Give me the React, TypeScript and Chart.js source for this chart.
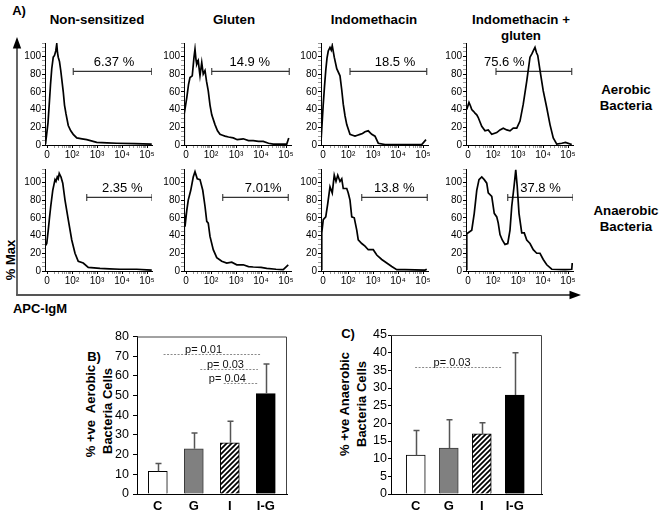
import React, { useEffect, useRef } from 'react';
import { Chart, registerables } from 'chart.js';

Chart.register(...registerables);

const FONT = '"Liberation Sans", Arial, Helvetica, sans-serif';

// ---------------- Panel A : flow cytometry histograms ----------------
// x is in display units: 0 -> "0", 1 -> 10², 2 -> 10³, 3 -> 10⁴, 4 -> 10⁵
const xTickLabels = ['0', '10²', '10³', '10⁴', '10⁵'];
const yTickLabels = [0, 20, 40, 60, 80, 100];
const columnTitles = ['Non-sensitized', 'Gluten', 'Indomethacin', 'Indomethacin +\ngluten'];
const rowTitles = ['Aerobic\nBacteria', 'Anaerobic\nBacteria'];

const aeroNonX = [-0.06, 0.04, 0.09, 0.14, 0.19, 0.25, 0.3, 0.35, 0.39, 0.42, 0.45, 0.5, 0.55, 0.6, 0.65, 0.7, 0.76, 0.85, 0.95, 1.05, 1.19, 1.4, 1.59, 1.99, 2.4, 2.79, 3.5, 4.19];
const aeroNonY = [1, 25, 46, 68, 86, 99, 101, 106, 114, 104, 99, 94, 84, 72, 60, 45, 35, 22, 16, 12, 8, 7, 6, 3, 2.5, 2, 1.5, 1];
const aeroGluX = [-0.08, -0.07, 0.03, 0.1, 0.16, 0.25, 0.32, 0.36, 0.4, 0.43, 0.49, 0.53, 0.56, 0.63, 0.69, 0.76, 0.82, 0.89, 0.96, 1.03, 1.16, 1.26, 1.36, 1.46, 1.56, 1.7, 1.89, 2.05, 2.29, 2.5, 2.69, 2.9, 3.09, 3.3, 3.49, 4.03, 4.11];
const aeroGluY = [0, 35, 53, 68, 76, 78, 99, 108, 96, 91, 95, 85, 78, 93, 80, 84, 72, 61, 45, 34, 23, 16, 12, 11, 10, 9, 8, 6, 7, 5, 5, 4, 4, 2, 1, 1, 8];
const aeroIndoX = [-0.08, 0.01, 0.06, 0.11, 0.16, 0.21, 0.28, 0.33, 0.37, 0.45, 0.55, 0.68, 0.75, 0.81, 0.88, 0.95, 1.08, 1.18, 1.28, 1.38, 1.48, 1.58, 1.68, 1.81, 1.88, 1.95, 2.08, 2.21, 2.48, 3.2, 3.95, 4.12];
const aeroIndoY = [4, 46, 66, 84, 98, 106, 110, 107, 112, 99, 86, 78, 62, 46, 33, 23, 12, 11, 10, 11, 12, 13, 15, 16, 14, 12, 10, 2, 0.5, 0.5, 0.5, 6];
const aeroIGX = [-0.05, 0.04, 0.1, 0.15, 0.22, 0.28, 0.35, 0.41, 0.48, 0.55, 0.68, 0.81, 0.95, 1.15, 1.28, 1.41, 1.55, 1.68, 1.81, 1.95, 2.08, 2.21, 2.35, 2.48, 2.56, 2.61, 2.68, 2.74, 2.79, 2.88, 3.01, 3.15, 3.28, 3.41, 3.55, 3.75, 3.9, 4.15];
const aeroIGY = [40, 48, 44, 40, 38, 36, 34, 31, 26, 21, 16, 17, 12, 14, 17, 19, 17, 16, 19, 19, 27, 46, 72, 99, 103, 106, 110, 104, 101, 84, 61, 42, 23, 8, 1, 2, 3, 0.5];

const anaNonX = [-0.08, -0.01, 0.05, 0.1, 0.15, 0.23, 0.32, 0.36, 0.41, 0.45, 0.49, 0.56, 0.63, 0.72, 0.85, 0.99, 1.12, 1.25, 1.45, 1.65, 2.12, 2.5, 2.92, 3.3, 3.59, 4.19];
const anaNonY = [28, 31, 46, 60, 73, 91, 103, 101, 106, 104, 110, 106, 99, 80, 58, 35, 20, 11, 9, 4, 3, 2.5, 2, 2, 2, 1];
const anaGluX = [-0.08, -0.07, -0.04, 0.03, 0.09, 0.19, 0.29, 0.36, 0.45, 0.56, 0.67, 0.76, 0.83, 0.89, 0.96, 1.09, 1.23, 1.43, 1.63, 1.83, 2.03, 2.29, 2.5, 2.69, 3.0, 3.23, 3.6, 3.89, 4.09];
const anaGluY = [32, 66, 50, 68, 80, 91, 106, 112, 104, 103, 91, 73, 56, 54, 39, 24, 15, 11, 9, 10, 7, 7, 5, 4.5, 4, 3, 2, 1.5, 7];
const anaIndoX = [-0.08, -0.05, 0.01, 0.11, 0.19, 0.28, 0.37, 0.45, 0.52, 0.59, 0.68, 0.75, 0.81, 0.95, 1.01, 1.08, 1.15, 1.25, 1.35, 1.41, 1.55, 1.68, 1.81, 2.01, 2.15, 2.35, 2.55, 2.75, 2.95, 3.28, 4.08, 4.15];
const anaIndoY = [2, 43, 58, 61, 76, 95, 88, 108, 101, 108, 101, 104, 93, 93, 88, 80, 61, 60, 46, 35, 31, 28, 24, 24, 18, 13, 9, 5, 1.5, 1.5, 1, 2];
const anaIGX = [-0.06, -0.05, 0.15, 0.25, 0.35, 0.44, 0.55, 0.65, 0.75, 0.81, 0.95, 1.05, 1.15, 1.21, 1.28, 1.37, 1.48, 1.59, 1.68, 1.75, 1.84, 1.91, 1.97, 2.04, 2.15, 2.25, 2.35, 2.48, 2.61, 2.75, 2.88, 3.01, 3.15, 3.35, 3.88, 4.15, 4.17];
const anaIGY = [2, 42, 46, 65, 91, 103, 106, 103, 99, 88, 84, 65, 61, 54, 41, 35, 30, 31, 46, 73, 95, 114, 95, 65, 43, 43, 35, 31, 24, 20, 20, 13, 7, 2, 1.5, 2, 9];

const aerobicX = [aeroNonX, aeroGluX, aeroIndoX, aeroIGX];
const aerobicY = [aeroNonY, aeroGluY, aeroIndoY, aeroIGY];
const anaerobicX = [anaNonX, anaGluX, anaIndoX, anaIGX];
const anaerobicY = [anaNonY, anaGluY, anaIndoY, anaIGY];

const aerobicGateText = ['6.37 %', '14.9 %', '18.5 %', '75.6 %'];
const aerobicGateFrom = [1.05, 1.03, 1.08, 1.12];
const aerobicGateTo = [4.19, 4.13, 4.15, 4.15];
const aerobicGateTextX = [2.68, 2.55, 2.88, 1.45];
const anaerobicGateText = ['2.35 %', '7.01%', '13.8 %', '37.8 %'];
const anaerobicGateFrom = [1.59, 1.47, 1.55, 1.59];
const anaerobicGateTo = [4.2, 4.09, 4.17, 4.2];
const anaerobicGateTextX = [3.01, 3.09, 2.85, 2.9];
const gateLevel = 83;
const gateTextLevel = 93;

// ---------------- Panels B and C : bar charts ----------------
const groups = ['C', 'G', 'I', 'I-G'];
const aerobicMean = [11.5, 23, 26, 51];
const aerobicSD = [4, 8, 11, 15];
const anaerobicMean = [11, 13, 17, 28];
const anaerobicSD = [7, 8, 3.2, 12];
const aerobicPText = ['p= 0.01', 'p= 0.03', 'p= 0.04'];
const aerobicPFrom = [0.16, 1.18, 1.83];
const aerobicPTo = [2.85, 2.78, 2.78];
const aerobicPLevel = [71, 63.5, 56.5];
const aerobicPTextX = [1.27, 1.88, 1.93];
const anaerobicPText = ['p= 0.03'];
const anaerobicPFrom = [-0.02];
const anaerobicPTo = [2.61];
const anaerobicPLevel = [36];
const anaerobicPTextX = [1.1];

// ---------------- layout ----------------
const colAxisX = [45, 184, 321, 466];
const rowTop = [43, 169];
const H_YW = 28, H_XH = 18, H_PT = 8, H_PR = 8, H_PW = 107, H_PH = 102;
const HW = H_YW + H_PW + H_PR;
const HH = H_PT + H_PH + H_XH;

const xMajor = [0, 1, 2, 3, 4];
const xMinor: number[] = [];
for (let d = 0; d < 4; d++) for (let m = 2; m <= 9; m++) xMinor.push(d + Math.log10(m));

function Histogram(props: any) {
  const ref = useRef<HTMLCanvasElement>(null);
  const { xs, ys, gFrom, gTo, gText, gTextX } = props;
  useEffect(() => {
    const labelPlugin = {
      id: 'gateLabel',
      afterDatasetsDraw(chart: any) {
        const { ctx, scales } = chart;
        ctx.save();
        ctx.font = `13px ${FONT}`;
        ctx.fillStyle = '#000';
        ctx.textAlign = 'center';
        ctx.textBaseline = 'middle';
        ctx.fillText(gText, scales.x.getPixelForValue(gTextX), scales.y.getPixelForValue(gateTextLevel));
        ctx.restore();
      },
    };
    const isMajorX = (v: number) => xMajor.some((m) => Math.abs(m - v) < 1e-6);
    const chart = new Chart(ref.current as HTMLCanvasElement, {
      type: 'line',
      data: {
        datasets: [
          {
            data: xs.map((x: number, i: number) => ({ x, y: ys[i] })),
            borderColor: '#000',
            borderWidth: 1.7,
            pointRadius: 0,
            tension: 0,
            fill: false,
          } as any,
          {
            data: [{ x: gFrom, y: gateLevel }, { x: gTo, y: gateLevel }],
            borderColor: '#333',
            borderWidth: 1.1,
            pointStyle: 'line',
            rotation: 90,
            pointRadius: 3.5,
            pointBorderWidth: 1.1,
            pointBorderColor: '#333',
          } as any,
        ],
      },
      options: {
        animation: false,
        responsive: false,
        maintainAspectRatio: false,
        events: [],
        layout: { padding: { left: 0, top: H_PT, right: H_PR, bottom: 0 } },
        plugins: { legend: { display: false }, tooltip: { enabled: false } },
        scales: {
          x: {
            type: 'linear',
            min: -0.08,
            max: 4.2,
            afterBuildTicks: (s: any) => {
              s.ticks = [...xMajor, ...xMinor].sort((a, b) => a - b).map((v) => ({ value: v }));
            },
            afterFit: (s: any) => { s.height = H_XH; },
            grid: {
              drawOnChartArea: false,
              drawTicks: true,
              tickLength: 3,
              tickColor: (c: any) => (c.tick && isMajorX(c.tick.value) ? '#000' : '#999'),
            },
            border: { color: '#000', width: 1 },
            ticks: {
              autoSkip: false,
              maxRotation: 0,
              padding: 1,
              color: '#000',
              font: { family: FONT, size: 10 },
              callback: (v: any) => {
                const i = xMajor.findIndex((m) => Math.abs(m - v) < 1e-6);
                return i >= 0 ? xTickLabels[i] : '';
              },
            },
          },
          y: {
            min: 0,
            max: 115,
            afterBuildTicks: (s: any) => {
              const t = [];
              for (let v = 0; v <= 115; v += 5) t.push({ value: v });
              s.ticks = t;
            },
            afterFit: (s: any) => { s.width = H_YW; },
            grid: {
              drawOnChartArea: false,
              drawTicks: true,
              tickLength: 3,
              tickColor: (c: any) => (c.tick && yTickLabels.includes(c.tick.value) ? '#000' : '#999'),
            },
            border: { color: '#000', width: 1 },
            ticks: {
              autoSkip: false,
              padding: 1,
              color: '#000',
              font: { family: FONT, size: 10 },
              callback: (v: any) => (yTickLabels.includes(v) ? String(v) : ''),
            },
          },
        },
      } as any,
      plugins: [labelPlugin],
    });
    return () => chart.destroy();
  }, []);
  return (
    <canvas
      ref={ref}
      width={HW}
      height={HH}
      style={{ position: 'absolute', left: props.left, top: props.top, width: HW, height: HH }}
    />
  );
}

function BarPanel(props: any) {
  const ref = useRef<HTMLCanvasElement>(null);
  const { w, h, yw, xh, padT, padR, xMin, xMax, yMax, yStep, means, sds, pText, pFrom, pTo, pLevel, pTextX, tickLen, tickPad } = props;
  useEffect(() => {
    const pc = document.createElement('canvas');
    pc.width = 5;
    pc.height = 5;
    const p = pc.getContext('2d') as CanvasRenderingContext2D;
    p.fillStyle = '#fff';
    p.fillRect(0, 0, 5, 5);
    p.strokeStyle = '#000';
    p.lineWidth = 1.7;
    p.beginPath();
    p.moveTo(-1, 6); p.lineTo(6, -1);
    p.moveTo(-3.5, 3.5); p.lineTo(3.5, -3.5);
    p.moveTo(1.5, 8.5); p.lineTo(8.5, 1.5);
    p.stroke();
    const ctx0 = (ref.current as HTMLCanvasElement).getContext('2d') as CanvasRenderingContext2D;
    const hatch = ctx0.createPattern(pc, 'repeat');

    const extras = {
      id: 'barExtras',
      afterDatasetsDraw(chart: any) {
        const { ctx, chartArea: a, scales } = chart;
        const x = scales.x, y = scales.y;
        ctx.save();
        // frame top/right
        ctx.strokeStyle = '#444';
        ctx.lineWidth = 1;
        ctx.beginPath();
        ctx.moveTo(a.left, a.top + 0.5);
        ctx.lineTo(a.right - 0.5, a.top + 0.5);
        ctx.lineTo(a.right - 0.5, a.bottom);
        ctx.stroke();
        // error bars (upper)
        ctx.strokeStyle = '#555';
        ctx.lineWidth = 1.5;
        means.forEach((m: number, i: number) => {
          const px = Math.round(x.getPixelForValue(i)) + 0.5;
          const y0 = y.getPixelForValue(m);
          const y1 = y.getPixelForValue(m + sds[i]);
          ctx.beginPath();
          ctx.moveTo(px, y0);
          ctx.lineTo(px, y1);
          ctx.moveTo(px - 3, y1);
          ctx.lineTo(px + 3, y1);
          ctx.stroke();
        });
        // p-value brackets
        pText.forEach((t: string, i: number) => {
          const ly = Math.round(y.getPixelForValue(pLevel[i])) + 0.5;
          ctx.strokeStyle = '#8a8a8a';
          ctx.lineWidth = 1;
          ctx.setLineDash([2, 1.5]);
          ctx.beginPath();
          ctx.moveTo(x.getPixelForValue(pFrom[i]), ly);
          ctx.lineTo(x.getPixelForValue(pTo[i]), ly);
          ctx.stroke();
          ctx.setLineDash([]);
          ctx.fillStyle = '#111';
          ctx.font = `11px ${FONT}`;
          ctx.textAlign = 'center';
          ctx.textBaseline = 'alphabetic';
          ctx.fillText(t, x.getPixelForValue(pTextX[i]), ly - 2);
        });
        ctx.restore();
      },
    };

    const chart = new Chart(ref.current as HTMLCanvasElement, {
      type: 'bar',
      data: {
        datasets: [
          {
            data: means.map((m: number, i: number) => ({ x: i, y: m })),
            backgroundColor: ['#ffffff', '#808080', hatch, '#000000'],
            borderColor: ['#000', '#3a3a3a', '#000', '#000'],
            borderWidth: 1,
            barThickness: 19,
          } as any,
        ],
      },
      options: {
        animation: false,
        responsive: false,
        maintainAspectRatio: false,
        events: [],
        layout: { padding: { left: 0, top: padT, right: padR, bottom: 0 } },
        plugins: { legend: { display: false }, tooltip: { enabled: false } },
        scales: {
          x: {
            type: 'linear',
            min: xMin,
            max: xMax,
            offset: false,
            afterBuildTicks: (s: any) => {
              s.ticks = groups.map((_, i) => ({ value: i }));
            },
            afterFit: (s: any) => { s.height = xh; },
            grid: { display: false, drawTicks: false },
            border: { color: '#000', width: 1 },
            ticks: {
              autoSkip: false,
              maxRotation: 0,
              padding: 5,
              color: '#000',
              font: { family: FONT, size: 13, weight: 'bold' },
              callback: (v: any) => groups[Math.round(v)] ?? '',
            },
          },
          y: {
            min: 0,
            max: yMax,
            afterFit: (s: any) => { s.width = yw; },
            grid: { drawOnChartArea: false, drawTicks: true, tickLength: tickLen, tickColor: '#000' },
            border: { color: '#000', width: 1 },
            ticks: {
              stepSize: yStep,
              autoSkip: false,
              padding: tickPad,
              color: '#000',
              font: { family: FONT, size: 12.5 },
            },
          },
        },
      } as any,
      plugins: [extras],
    });
    return () => chart.destroy();
  }, []);
  return (
    <canvas
      ref={ref}
      width={w}
      height={h}
      style={{ position: 'absolute', left: props.left, top: props.top, width: w, height: h }}
    />
  );
}

function Txt(props: any) {
  const { x, y, size = 13, bold = true, rotate = false, lh, children } = props;
  return (
    <div
      style={{
        position: 'absolute',
        left: x,
        top: y,
        transform: `translate(-50%, -50%)${rotate ? ' rotate(-90deg)' : ''}`,
        fontFamily: FONT,
        fontSize: size,
        fontWeight: bold ? 700 : 400,
        whiteSpace: 'pre',
        textAlign: 'center',
        lineHeight: lh ? `${lh}px` : 'normal',
        color: '#000',
      }}
    >
      {children}
    </div>
  );
}

export default function App() {
  const titleX = [97, 234, 374, 521];
  const titleY = [20, 20, 20, 28];
  return (
    <div style={{ position: 'absolute', left: 0, top: 0, width: 661, height: 515, background: '#fff', overflow: 'hidden' }}>
      <svg width={661} height={515} style={{ position: 'absolute', left: 0, top: 0 }}>
        <line x1={17} y1={46} x2={17} y2={295} stroke="#555" strokeWidth={1.8} />
        <line x1={16.1} y1={295} x2={572} y2={295} stroke="#555" strokeWidth={1.8} />
        <polygon points="17,37 12.8,48.5 21.2,48.5" fill="#000" />
        <polygon points="581,295 569.5,290.8 569.5,299.2" fill="#000" />
      </svg>

      <Txt x={19} y={10} size={13}>A)</Txt>
      {columnTitles.map((t, i) => (
        <Txt key={t} x={titleX[i]} y={titleY[i]} size={13.3} lh={16}>{t}</Txt>
      ))}
      <Txt x={626} y={98} size={13.3} lh={16}>{rowTitles[0]}</Txt>
      <Txt x={626} y={218.5} size={13.3} lh={16}>{rowTitles[1]}</Txt>
      <Txt x={10} y={260} size={13} rotate>% Max</Txt>
      <Txt x={40} y={308} size={13}>APC-IgM</Txt>

      {aerobicX.map((xs, c) => (
        <Histogram
          key={'a' + c}
          left={colAxisX[c] - H_YW}
          top={rowTop[0] - H_PT}
          xs={xs}
          ys={aerobicY[c]}
          gFrom={aerobicGateFrom[c]}
          gTo={aerobicGateTo[c]}
          gText={aerobicGateText[c]}
          gTextX={aerobicGateTextX[c]}
        />
      ))}
      {anaerobicX.map((xs, c) => (
        <Histogram
          key={'n' + c}
          left={colAxisX[c] - H_YW}
          top={rowTop[1] - H_PT}
          xs={xs}
          ys={anaerobicY[c]}
          gFrom={anaerobicGateFrom[c]}
          gTo={anaerobicGateTo[c]}
          gText={anaerobicGateText[c]}
          gTextX={anaerobicGateTextX[c]}
        />
      ))}

      <Txt x={94} y={356} size={13}>B)</Txt>
      <Txt x={98.5} y={411} size={13} rotate lh={17}>{'% +ve  Aerobic\nBacteria Cells'}</Txt>
      <BarPanel
        left={100} top={325} w={200} h={190} yw={37} xh={21} padT={10} padR={13}
        xMin={-0.578} xMax={3.589} yMax={80} yStep={10}
        means={aerobicMean} sds={aerobicSD}
        pText={aerobicPText} pFrom={aerobicPFrom} pTo={aerobicPTo} pLevel={aerobicPLevel} pTextX={aerobicPTextX}
        tickLen={4} tickPad={4}
      />

      <Txt x={348} y={333} size={13}>C)</Txt>
      <Txt x={352.5} y={404} size={13} rotate lh={17}>{'% +ve Anaerobic\nBacteria Cells'}</Txt>
      <BarPanel
        left={365} top={325} w={190} h={190} yw={26} xh={21} padT={10} padR={13}
        xMin={-0.75} xMax={3.825} yMax={45} yStep={5}
        means={anaerobicMean} sds={anaerobicSD}
        pText={anaerobicPText} pFrom={anaerobicPFrom} pTo={anaerobicPTo} pLevel={anaerobicPLevel} pTextX={anaerobicPTextX}
        tickLen={3} tickPad={1}
      />
    </div>
  );
}
